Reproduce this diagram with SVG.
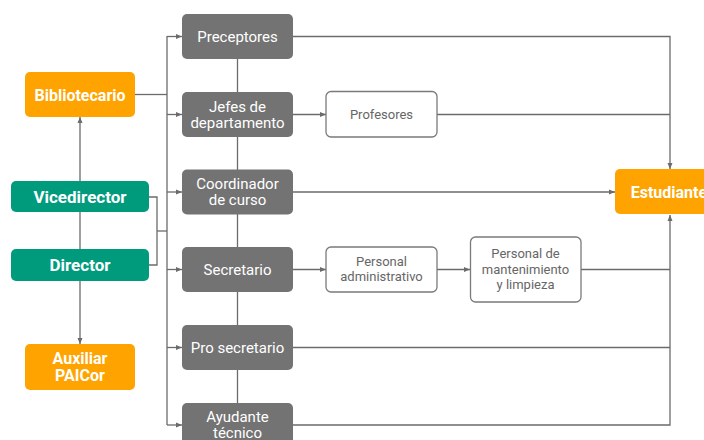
<svg xmlns="http://www.w3.org/2000/svg" width="704" height="440" viewBox="0 0 704 440">
<defs>
<marker id="ah" viewBox="0 0 6 6" refX="6" refY="3" markerWidth="6" markerHeight="6" markerUnits="userSpaceOnUse" orient="auto">
<path d="M0,0.5 L6,3 L0,5.5 Z" fill="#6b6b6b"/>
</marker>
<style>
.ln{fill:none;stroke:#6b6b6b;stroke-width:1.3}
.ar{marker-end:url(#ah)}
.g rect{fill:#737373}
.g text{fill:#ffffff;font-family:Roboto,"Liberation Sans",sans-serif;font-size:15px;text-anchor:middle}
.o rect{fill:#FFA300}
.t rect{fill:#009B7D}
.o text,.t text{fill:#ffffff;font-family:Roboto,"Liberation Sans",sans-serif;font-weight:bold;font-size:16px;text-anchor:middle}
.w rect{fill:#ffffff;stroke:#7a7a7a;stroke-width:1.3}
.w text{fill:#666666;font-family:Roboto,"Liberation Sans",sans-serif;font-size:13px;text-anchor:middle}
</style>
</defs>
<rect width="704" height="440" fill="#ffffff"/>
<g id="connectors">
<line class="ln" x1="237.5" y1="59" x2="237.5" y2="403"/>
<path class="ln" d="M135,94.5 H167"/>
<line class="ln" x1="167" y1="36" x2="167" y2="425"/>
<path class="ln ar" d="M167,36.5 H182"/>
<path class="ln ar" d="M167,114.5 H182"/>
<path class="ln ar" d="M167,192 H182"/>
<path class="ln ar" d="M167,269.5 H182"/>
<path class="ln ar" d="M167,347.5 H182"/>
<path class="ln ar" d="M167,425 H182"/>
<path class="ln" d="M149,197 H157 V265 H149"/>
<path class="ln" d="M157,231 H167"/>
<path class="ln ar" d="M80,181 V117"/>
<path class="ln" d="M80,212 V249"/>
<path class="ln ar" d="M80,281 V344"/>
<path class="ln ar" d="M293,114.5 H326"/>
<path class="ln ar" d="M293,269.5 H326"/>
<path class="ln ar" d="M437,269.5 H470"/>
<path class="ln ar" d="M293,36.5 H670 V169"/>
<path class="ln" d="M437,114.5 H670"/>
<path class="ln ar" d="M293,192 H615"/>
<path class="ln ar" d="M293,425 H670 V215"/>
<path class="ln" d="M581,269.5 H670"/>
<path class="ln" d="M293,347.5 H670"/>
</g>
<g id="preceptores" class="g"><rect x="182" y="14" width="111" height="45" rx="5"/><text x="237.5" y="41.5">Preceptores</text></g>
<g id="jefes" class="g"><rect x="182" y="92" width="111" height="45" rx="5"/><text x="237.5" y="112">Jefes de</text><text x="237.5" y="127.5">departamento</text></g>
<g id="coordinador" class="g"><rect x="182" y="169.5" width="111" height="45" rx="5"/><text x="237.5" y="189">Coordinador</text><text x="237.5" y="205">de curso</text></g>
<g id="secretario" class="g"><rect x="182" y="247" width="111" height="45" rx="5"/><text x="237.5" y="274.5">Secretario</text></g>
<g id="prosecretario" class="g"><rect x="182" y="325" width="111" height="45" rx="5"/><text x="237.5" y="352.5">Pro secretario</text></g>
<g id="ayudante" class="g"><rect x="182" y="403" width="111" height="45" rx="5"/><text x="237.5" y="422">Ayudante</text><text x="237.5" y="438">técnico</text></g>
<g id="bibliotecario" class="o"><rect x="25" y="72" width="110" height="45" rx="5"/><text x="80" y="100.5">Bibliotecario</text></g>
<g id="vicedirector" class="t"><rect x="11" y="181" width="138" height="31" rx="5"/><text x="80" y="202.5" style="font-size:17px">Vicedirector</text></g>
<g id="director" class="t"><rect x="11" y="249" width="138" height="32" rx="5"/><text x="80" y="271" style="font-size:17px">Director</text></g>
<g id="auxiliar" class="o"><rect x="25" y="344" width="110" height="46" rx="5"/><text x="80" y="363.5">Auxiliar</text><text x="80" y="380.5">PAICor</text></g>
<g id="estudiantes" class="o"><rect x="615" y="169" width="110" height="45" rx="5"/><text x="673" y="198">Estudiantes</text></g>
<g id="profesores" class="w"><rect x="326" y="91.5" width="111" height="45.5" rx="5"/><text x="381.5" y="119">Profesores</text></g>
<g id="personaladmin" class="w"><rect x="326" y="247" width="111" height="45" rx="5"/><text x="381.5" y="266">Personal</text><text x="381.5" y="281">administrativo</text></g>
<g id="mantenimiento" class="w"><rect x="470.5" y="237" width="110.5" height="65" rx="5"/><text x="525.5" y="258">Personal de</text><text x="525.5" y="274">mantenimiento</text><text x="525.5" y="289">y limpieza</text></g>
</svg>
